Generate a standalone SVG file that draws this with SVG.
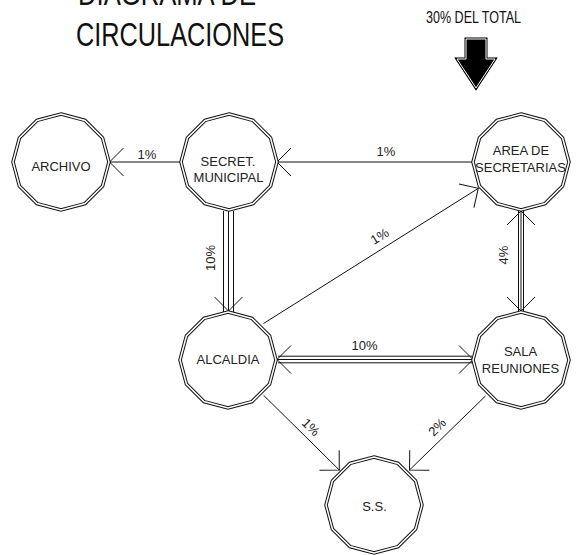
<svg xmlns="http://www.w3.org/2000/svg" xmlns:xlink="http://www.w3.org/1999/xlink" width="585" height="555" viewBox="0 0 585 555">
<style>
  .bg{fill:#ffffff}
  .nb{fill:#ffffff;stroke:#111;stroke-width:3.5;stroke-linejoin:miter}
  .nw{fill:none;stroke:#ffffff;stroke-width:1.5;stroke-linejoin:miter}
  .lbl{font-family:"Liberation Sans",Arial,sans-serif;font-size:13px;fill:#222;text-anchor:middle}
  .pct{font-family:"Liberation Sans",Arial,sans-serif;font-size:13px;fill:#222;text-anchor:middle}
  .title{font-family:"Liberation Sans Narrow","Liberation Sans",Arial,sans-serif;font-size:34px;fill:#111}
  .ln{stroke:#111;stroke-width:1;fill:none}
  .lnm{stroke:#111;stroke-width:1;fill:none;marker-end:url(#arr)}
  .lnmm{stroke:#111;stroke-width:1;fill:none;marker-start:url(#arr);marker-end:url(#arr)}
</style>
<defs>
  <marker id="arr" viewBox="-16 -16 18 32" refX="0" refY="0" markerWidth="18" markerHeight="32" markerUnits="userSpaceOnUse" orient="auto-start-reverse">
    <path d="M-14,-14 L0,0 L-14,14" fill="none" stroke="#111" stroke-width="1"/>
  </marker>
  <g id="dodeca">
    <polygon class="nb" points="0,-48 24,-41.57 41.57,-24 48,0 41.57,24 24,41.57 0,48 -24,41.57 -41.57,24 -48,0 -41.57,-24 -24,-41.57"/>
    <polygon class="nw" points="0,-48 24,-41.57 41.57,-24 48,0 41.57,24 24,41.57 0,48 -24,41.57 -41.57,24 -48,0 -41.57,-24 -24,-41.57"/>
  </g>
</defs>
<rect class="bg" x="0" y="0" width="585" height="555"/>

<g id="title">
  <text class="title" x="78" y="5" textLength="178" lengthAdjust="spacingAndGlyphs">DIAGRAMA DE</text>
  <text class="title" x="76" y="46" textLength="208" lengthAdjust="spacingAndGlyphs">CIRCULACIONES</text>
</g>

<g id="entrada">
  <text x="426" y="23" font-family="'Liberation Sans Narrow','Liberation Sans',Arial,sans-serif" font-size="17" fill="#111" textLength="95" lengthAdjust="spacingAndGlyphs">30% DEL TOTAL</text>
  <polygon points="466,39 486,39 486,59 495,59 476,88 457,59 466,59" fill="#000" stroke="#000" stroke-width="3" stroke-linejoin="miter"/>
  <polygon points="466,39 486,39 486,59 495,59 476,88 457,59 466,59" fill="#000" stroke="#fff" stroke-width="1" stroke-linejoin="miter"/>
</g>

<g id="connectors">
  <!-- SECRET -> ARCHIVO -->
  <line class="lnm" x1="181" y1="162" x2="109.5" y2="162"/>
  <!-- AREA -> SECRET -->
  <line class="lnm" x1="473" y1="162" x2="277" y2="162"/>
  <!-- SECRET -> ALCALDIA triple -->
  <line class="ln" x1="223.5" y1="211" x2="223.5" y2="313"/>
  <line class="ln" x1="233.5" y1="211" x2="233.5" y2="313"/>
  <line class="lnm" x1="228.5" y1="210" x2="228.5" y2="311"/>
  <!-- AREA <-> SALA double -->
  <line class="ln" x1="518.5" y1="211" x2="518.5" y2="312"/>
  <line class="ln" x1="523.5" y1="211" x2="523.5" y2="312"/>
  <line class="lnmm" x1="521" y1="211" x2="521" y2="311" stroke="none"/>
  <!-- ALCALDIA <-> SALA triple -->
  <line class="ln" x1="278" y1="356.2" x2="472" y2="356.2"/>
  <line class="ln" x1="278" y1="362.8" x2="472" y2="362.8"/>
  <line class="lnmm" x1="277" y1="359.5" x2="473" y2="359.5"/>
  <!-- ALCALDIA -> AREA -->
  <line class="lnm" x1="263.5" y1="323.5" x2="478.3" y2="188.3"/>
  <!-- ALCALDIA -> S.S. -->
  <line class="lnm" x1="263.5" y1="395.2" x2="339.3" y2="470"/>
  <!-- SALA -> S.S. -->
  <line class="lnm" x1="485.5" y1="396" x2="409.5" y2="470"/>

  <text class="pct" x="147" y="159">1%</text>
  <text class="pct" x="386" y="156">1%</text>
  <text class="pct" transform="translate(215,258) rotate(-90)">10%</text>
  <text class="pct" transform="translate(508,255) rotate(-90)">4%</text>
  <text class="pct" x="364.5" y="350">10%</text>
  <text class="pct" transform="translate(382,240) rotate(-32)">1%</text>
  <text class="pct" transform="translate(307.7,430.3) rotate(45)">1%</text>
  <text class="pct" transform="translate(440.3,430.3) rotate(-45)">2%</text>
</g>

<g id="archivo">
  <use xlink:href="#dodeca" x="61" y="162"/>
  <text class="lbl" x="61" y="170.5">ARCHIVO</text>
</g>
<g id="secret-municipal">
  <use xlink:href="#dodeca" x="229" y="162"/>
  <text class="lbl" x="228" y="166">SECRET.</text>
  <text class="lbl" x="228.5" y="181.7">MUNICIPAL</text>
</g>
<g id="area-secretarias">
  <use xlink:href="#dodeca" x="521" y="162"/>
  <text class="lbl" x="521" y="155.3">AREA DE</text>
  <text class="lbl" x="520.5" y="172">SECRETARIAS</text>
</g>
<g id="alcaldia">
  <use xlink:href="#dodeca" x="228" y="360"/>
  <text class="lbl" x="228" y="363.5">ALCALDIA</text>
</g>
<g id="sala-reuniones">
  <use xlink:href="#dodeca" x="521" y="360"/>
  <text class="lbl" x="520.5" y="356">SALA</text>
  <text class="lbl" x="520.5" y="372.7">REUNIONES</text>
</g>
<g id="ss">
  <use xlink:href="#dodeca" x="374" y="505"/>
  <text class="lbl" x="374.5" y="511">S.S.</text>
</g>
</svg>
